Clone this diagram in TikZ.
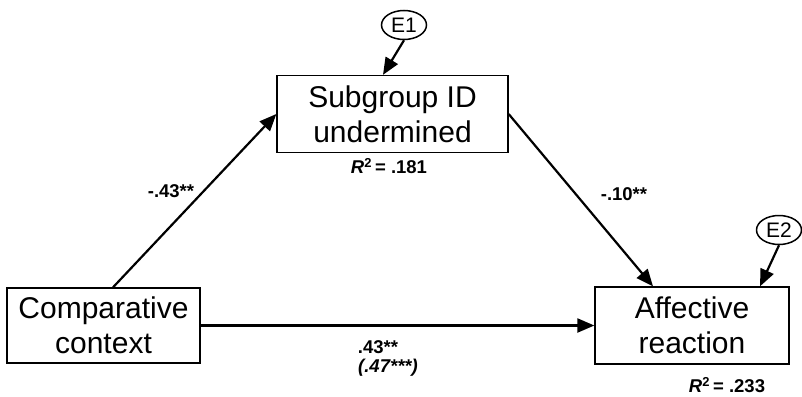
\documentclass[tikz,border=0pt]{standalone}
\usepackage{fontspec}
\setmainfont{Liberation Sans}
\usetikzlibrary{arrows.meta}
\usetikzlibrary{shapes.geometric}
\usetikzlibrary{positioning}

\tikzset{
  construct/.style={draw, line width=1.3pt, align=center, inner sep=0pt,
    font=\fontsize{30}{35}\selectfont},
  residual/.style={draw, ellipse, line width=1.5pt, inner sep=0pt,
    minimum width=45pt, minimum height=29pt, font=\fontsize{21}{24}\selectfont},
  pathway/.style={->, line width=2.2pt},
  coef/.style={font=\fontsize{18.5}{22}\selectfont\bfseries, inner sep=0pt}
}

\begin{document}
\begin{tikzpicture}[x=1pt, y=-1pt, >={Triangle[length=17pt,width=14pt]}]%

\useasboundingbox (0,0) rectangle (802,396);

\node [construct, minimum width=193pt, minimum height=75pt] (comparative) at (103.5,325.5) {Comparative\\context};
\node [construct, minimum width=231pt, minimum height=77pt] (subgroup) at (392.5,114) {Subgroup ID\\undermined};
\node [construct, minimum width=194pt, minimum height=77pt] (affective) at (692,325.5) {Affective\\reaction};

\node [residual] (E1) at (404,25) {E1};
\node [residual] (E2) at (779,230) {E2};

% paths
\draw [pathway] ([xshift=9.5pt]comparative.north) -- (subgroup.west);
\draw [pathway] (subgroup.east) -- ([xshift=-39pt]affective.north);
\draw [pathway] (comparative.east) -- (affective.west);

% residuals
\draw [pathway] (E1.south) -- ([xshift=-9.5pt]subgroup.north);
\draw [pathway] (E2.south) -- ([xshift=68pt]affective.north);

% coefficients
\foreach \l/\x/\y in {-.43**/171/191, -.10**/624/194, .43**/378/347}
  \node [coef] at (\x,\y) {\l};
\node [coef] at (388,368) {\itshape(.47***)};

\foreach \l/\x/\y in {.181/389/166, .233/727/385}
  \node [coef] at (\x,\y) {\textit{R}\textsuperscript{2}\,= \l};

\end{tikzpicture}
\end{document}
